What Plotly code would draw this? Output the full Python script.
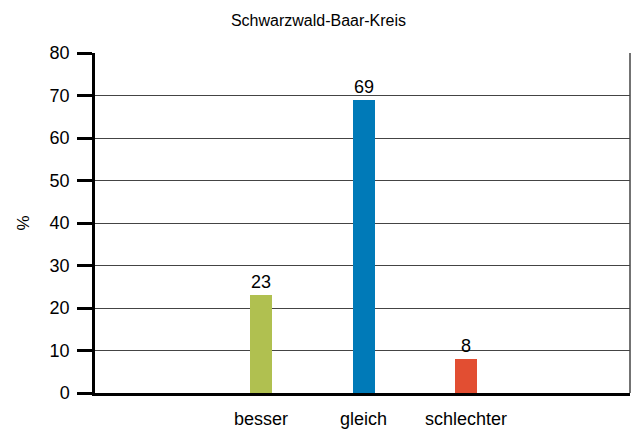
import plotly.graph_objects as go

# Survey result for the district, shares in percent
categories = ["besser", "gleich", "schlechter"]
values = [23, 69, 8]
bar_colors = ["#B0C050", "#007AB8", "#E24E32"]
y_ticks = [0, 10, 20, 30, 40, 50, 60, 70, 80]

FONT = "Liberation Sans, Arial, sans-serif"

fig = go.Figure(
    go.Bar(
        x=categories,
        y=values,
        marker=dict(color=bar_colors, line=dict(width=0)),
        width=0.215,
        text=[str(v) for v in values],
        textposition="outside",
        textfont=dict(family=FONT, size=18, color="#000"),
        cliponaxis=False,
    )
)

fig.update_layout(
    width=637,
    height=432,
    margin=dict(l=95, r=7, t=53, b=39),
    paper_bgcolor="white",
    plot_bgcolor="white",
    showlegend=False,
    font=dict(family=FONT, color="#000"),
    title=dict(
        text="Schwarzwald-Baar-Kreis",
        x=0.5,
        xanchor="center",
        y=1 - 20 / 432,
        yanchor="middle",
        font=dict(family=FONT, size=16, color="#000"),
    ),
    xaxis=dict(
        type="category",
        range=[-1.62, 3.6],
        showgrid=False,
        showline=True,
        linecolor="#000",
        linewidth=2.5,
        ticks="",
        ticklabelstandoff=8,
        tickfont=dict(family=FONT, size=18, color="#000"),
        automargin=False,
        fixedrange=True,
    ),
    yaxis=dict(
        range=[0, 80],
        tickvals=y_ticks,
        showgrid=True,
        gridcolor="#444",
        gridwidth=1,
        zeroline=False,
        showline=True,
        linecolor="#000",
        linewidth=2.5,
        ticks="outside",
        ticklen=15,
        tickwidth=2.5,
        tickcolor="#000",
        ticklabelstandoff=4,
        tickfont=dict(family=FONT, size=18, color="#000"),
        title=dict(text="%", standoff=16, font=dict(family=FONT, size=17, color="#000")),
        automargin=False,
        fixedrange=True,
    ),
    bargap=0,
)

# Right-hand frame line of the plot area
fig.add_shape(
    type="line", xref="paper", yref="paper",
    x0=1, x1=1, y0=0, y1=1,
    line=dict(color="#444", width=1.5),
)

fig.write_html("out.html")
